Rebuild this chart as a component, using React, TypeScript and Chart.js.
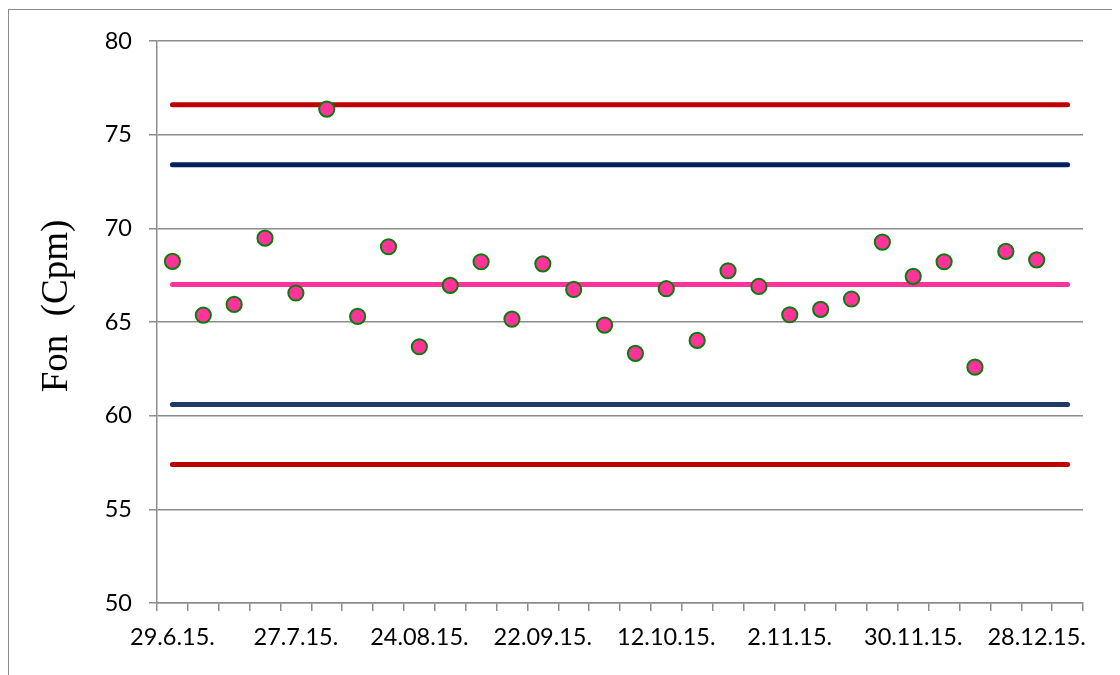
import React, { useEffect, useRef } from "react";
import { Chart, registerables } from "chart.js";

Chart.register(...registerables);

// ---- data ----
const tickLabels = ["29.6.15.", "27.7.15.", "24.08.15.", "22.09.15.", "12.10.15.", "2.11.15.", "30.11.15.", "28.12.15."];
const categoryCount = 30;
const labelEvery = 4;
const fonValues = [
  68.24, 65.37, 65.94, 69.48, 66.55, 76.37, 65.3, 69.02, 63.68, 66.96,
  68.22, 65.16, 68.11, 66.74, 64.84, 63.33, 66.78, 64.02, 67.74, 66.9,
  65.39, 65.68, 66.23, 69.27, 67.44, 68.22, 62.59, 68.77, 68.32,
];
const meanValue = 67.0;
const upperWarning = 73.4;
const lowerWarning = 60.6;
const upperControl = 76.6;
const lowerControl = 57.4;
const yMin = 50;
const yMax = 80;
const yStep = 5;
const axisTitle = "Fon  (Cpm)";

const categories: string[] = [];
for (let i = 0; i < categoryCount; i++) {
  categories.push(i % labelEvery === 0 && tickLabels[i / labelEvery] ? tickLabels[i / labelEvery] : "");
}
const firstIdx = 0;
const lastIdx = categoryCount - 1;
const hline = (v: number) => [
  { x: firstIdx, y: v },
  { x: lastIdx, y: v },
];

const GRID = "#8c8c8c";
const TICK_FONT = { family: "Lato", size: 23.5 };

const titlePlugin = {
  id: "yTitleFree",
  afterDraw(chart: any) {
    const ctx = chart.ctx;
    ctx.save();
    ctx.translate(48.5, 296);
    ctx.rotate(-Math.PI / 2);
    ctx.font = '37px "Liberation Serif"';
    ctx.fillStyle = "#000";
    ctx.textAlign = "center";
    ctx.textBaseline = "middle";
    ctx.fillText(axisTitle, 0, 0);
    ctx.restore();
  },
};

export default function App() {
  const ref = useRef<HTMLCanvasElement | null>(null);

  useEffect(() => {
    document.documentElement.style.overflow = "hidden";
    if (!ref.current) return;
    const lineDs = (label: string, v: number, color: string) => ({
      label,
      data: hline(v),
      xAxisID: "xl",
      borderColor: color,
      backgroundColor: color,
      borderWidth: 5,
      borderCapStyle: "round" as const,
      pointRadius: 0,
      pointHoverRadius: 0,
      fill: false,
    });
    const chart = new Chart(ref.current, {
      type: "line",
      data: {
        labels: categories,
        datasets: [
          {
            label: "Fon",
            data: fonValues,
            xAxisID: "x",
            showLine: false,
            pointRadius: 7.6,
            pointBorderWidth: 2,
            pointBackgroundColor: "#FF3399",
            pointBorderColor: "#0B7A0B",
            borderColor: "#0B7A0B",
            backgroundColor: "#FF3399",
          },
          lineDs("mean", meanValue, "#FF3399"),
          lineDs("uwl", upperWarning, "#002060"),
          lineDs("lwl", lowerWarning, "#1F3B64"),
          lineDs("ucl", upperControl, "#C00000"),
          lineDs("lcl", lowerControl, "#C00000"),
        ],
      },
      options: {
        animation: false,
        responsive: true,
        maintainAspectRatio: false,
        layout: { padding: { top: 31, right: 34, bottom: 0, left: 0 } },
        plugins: {
          legend: { display: false },
          tooltip: { enabled: false },
          title: { display: false },
        },
        scales: {
          x: {
            type: "category",
            offset: true,
            afterFit: (s: any) => {
              s.height = 73;
            },
            grid: {
              offset: true,
              drawOnChartArea: false,
              drawTicks: true,
              tickLength: 8,
              color: GRID,
              lineWidth: 1.5,
            },
            border: { display: true, color: GRID, width: 1.5 },
            ticks: {
              autoSkip: false,
              maxRotation: 0,
              minRotation: 0,
              padding: 12,
              color: "#000",
              font: TICK_FONT,
            },
          },
          xl: {
            type: "linear",
            display: false,
            min: firstIdx - 0.5,
            max: lastIdx + 0.5,
          },
          y: {
            min: yMin,
            max: yMax,
            afterFit: (s: any) => {
              s.width = 148;
            },
            ticks: {
              stepSize: yStep,
              padding: 17,
              color: "#000",
              font: TICK_FONT,
            },
            grid: {
              color: GRID,
              lineWidth: 1.5,
              tickLength: 8,
              drawTicks: true,
            },
            border: { display: true, color: GRID, width: 1.5 },
          },
        },
      },
      plugins: [titlePlugin],
    });
    return () => chart.destroy();
  }, []);

  return (
    <div
      style={{
        position: "relative",
        top: 1,
        width: 1108,
        height: 666,
        border: "1px solid #8a8a8a",
        borderBottom: "none",
      }}
    >
      <canvas ref={ref} />
    </div>
  );
}
